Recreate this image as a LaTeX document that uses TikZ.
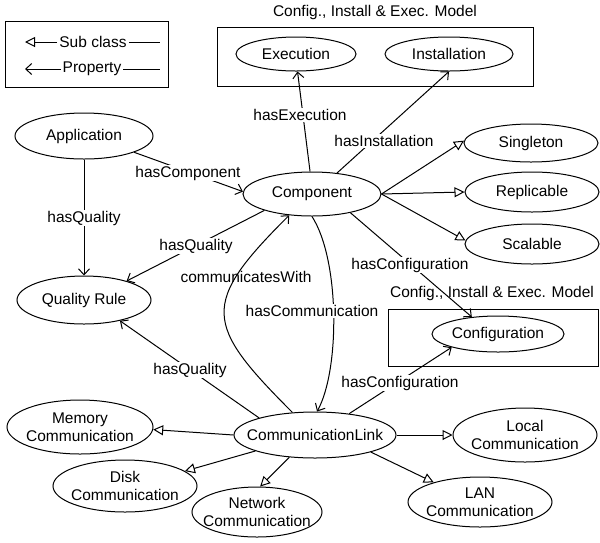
\documentclass[tikz,border=0pt]{standalone}
\usepackage{fontspec}
\setmainfont{Liberation Sans}
\usetikzlibrary{shapes.geometric,arrows.meta}

\begin{document}
\begin{tikzpicture}[x=1pt,y=-1pt,
  font=\fontsize{15.5}{18}\selectfont,
  cls/.style={draw, ellipse, inner ysep=0pt, inner xsep=-14pt, line width=1pt, align=center},
  sz/.style n args={2}{minimum width=#1pt, minimum height=#2pt},
  lbl/.style={fill=white, inner sep=1pt},
  txt/.style={inner sep=2pt},
  prop/.style={line width=1pt, -{Straight Barb[length=6pt,width=11pt]}},
  sub/.style={line width=1pt, -{Triangle[open,length=10pt,width=10pt]}},
  frame/.style={draw, line width=1pt, inner sep=0pt},
  plain/.style={line width=1pt},
]
\fill[white] (0,0) rectangle (600,542);

% legend
\node[frame, sz={163}{66}] (legend) at (86.5,54) {};
\node[txt] (lsub) at (93,42) {Sub class};
\node[txt] (lprop) at (92,69) {Property};
\coordinate (lsubtip) at (25,42);
\coordinate (lsubend) at (160,42);
\coordinate (lproptip) at (25,69);
\coordinate (lpropend) at (160,69);
\draw[sub] (lsub.west) -- (lsubtip);
\draw[plain] (lsub.east) -- (lsubend);
\draw[prop] (lprop.west) -- (lproptip);
\draw[plain] (lprop.east) -- (lpropend);

% package frames
\node[frame, sz={316}{59}] (cieTop) at (375,56.5) {};
\node (cieTopTitle) at (375,12) {Config., Install \& Exec. Model};
\node[frame, sz={210}{57}] (cieCfg) at (493,337.5) {};
\node (cieCfgTitle) at (492,293) {Config., Install \& Exec. Model};

% classes
\node[cls, sz={120}{34}] (exe) at (296,54) {Execution};
\node[cls, sz={128}{34}] (ins) at (449,54) {Installation};
\node[cls, sz={138}{46}] (app) at (84,136) {Application};
\node[cls, sz={138}{44}] (comp) at (312,194) {Component};
\node[cls, sz={134}{38}] (sing) at (531,143) {Singleton};
\node[cls, sz={134}{40}] (repl) at (532,192) {Replicable};
\node[cls, sz={134}{40}] (scal) at (532,244) {Scalable};
\node[cls, sz={134}{48}] (qr) at (84,300) {Quality Rule};
\node[cls, sz={132}{36}] (cfg) at (498,334) {Configuration};
\node[cls, sz={162}{46}] (cl) at (315,435) {CommunicationLink};
\node[cls, sz={146}{54}] (mem) at (80,427) {Memory\\Communication};
\node[cls, sz={144}{52}] (disk) at (125,486) {Disk\\Communication};
\node[cls, sz={130}{50}] (net) at (257,512) {Network\\Communication};
\node[cls, sz={144}{54}] (loc) at (525,435) {Local\\Communication};
\node[cls, sz={144}{50}] (lan) at (480,502) {LAN\\Communication};

% sub class relations
\draw[sub] (comp.east) -- (sing.178);
\draw[sub] (comp.east) -- (repl.west);
\draw[sub] (comp.east) -- (scal.177);
\draw[sub] (cl.west) -- (mem.-2);
\draw[sub] (cl.195) -- (disk.14);
\draw[sub] (cl.221) -- (net.83);
\draw[sub] (cl.east) -- (loc.west);
\draw[sub] (cl.-17) -- (lan.157);

% properties
\draw[prop] (comp.95) -- (exe.-85);
\draw[prop] (comp.40) -- (ins.south);
\draw[prop] (app.-18) -- (comp.178);
\draw[prop] (app.south) -- (qr.north);
\draw[prop] (comp.199) -- (qr.24);
\draw[prop] (cl.163) -- (qr.-30);
\draw[prop] (comp.-26) -- (cfg.147);
\draw[prop] (cl.32) -- (cfg.196);
\draw[prop] (comp.south) .. controls (340,260) and (340,370) .. (cl.85);
\draw[prop] (cl.135) .. controls (204,324) and (200,304) .. (comp.223);

% property labels
\node[lbl] (lExe) at (300,115) {hasExecution};
\node[lbl] (lIns) at (384,141) {hasInstallation};
\node[lbl] (lComp) at (188,173) {hasComponent};
\node[lbl] (lQapp) at (84,218) {hasQuality};
\node[lbl] (lQcomp) at (196,246) {hasQuality};
\node[lbl] (lQcl) at (190,370) {hasQuality};
\node (lComm) at (246,277) {communicatesWith};
\node[lbl] (lHasComm) at (312,311) {hasCommunication};
\node[lbl] (lCfgComp) at (410,265) {hasConfiguration};
\node[lbl] (lCfgCl) at (400,383) {hasConfiguration};
\end{tikzpicture}
\end{document}
